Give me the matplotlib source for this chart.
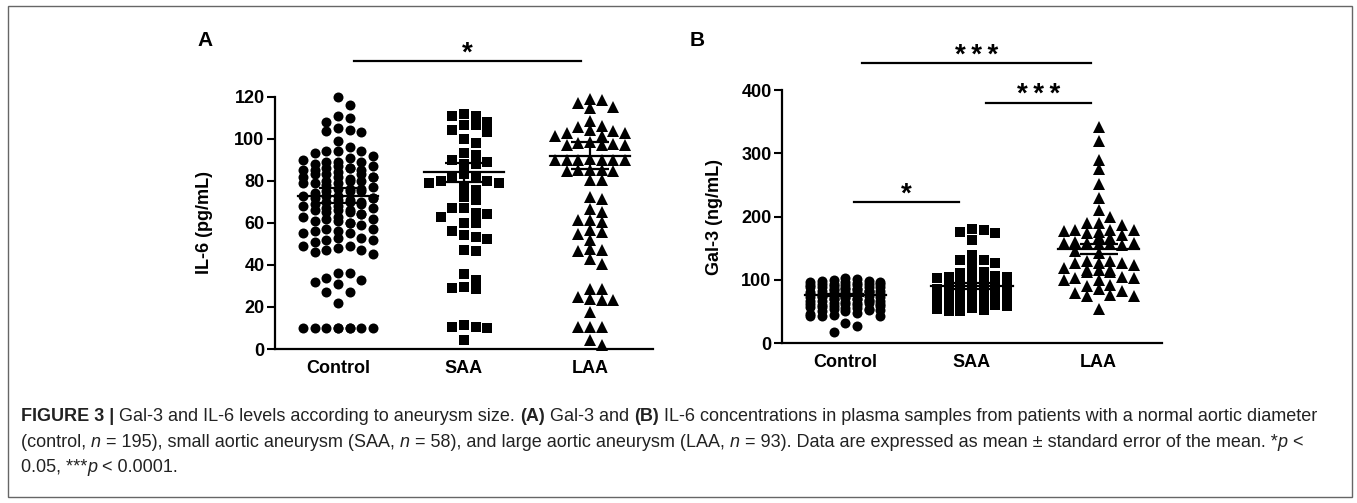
import matplotlib
matplotlib.use('Agg')
import matplotlib.pyplot as plt
from matplotlib.patches import Rectangle
import numpy as np

plt.rcParams['font.family'] = ['Liberation Sans', 'DejaVu Sans']

groups = ['Control', 'SAA', 'LAA']

# panel A: IL-6 (pg/mL)
il6_control = [120, 116, 111, 110, 108, 105, 104, 103.5, 103, 99, 96,
               94, 94, 93, 94, 92, 91,
               89, 89, 90, 89, 88,
               87, 86, 85, 86, 87, 85, 86, 85,
               83, 82, 83, 82, 83, 82, 82, 84, 81,
               80, 79, 80, 79, 80, 78, 79, 77,
               76, 75, 76, 75, 76, 74, 75,
               73, 72, 73, 71, 72, 73, 72, 71,
               70, 69, 70, 68, 69, 70, 68,
               67, 66, 65, 66, 67, 65, 66,
               64, 63, 62, 63, 64, 62,
               61, 60, 59, 60, 61,
               57, 56, 55, 56, 57, 55,
               53, 52, 51, 53, 52,
               49, 47, 46, 45, 48, 47, 49,
               36, 33, 31, 32, 34, 36,
               27, 27, 22,
               10, 10, 10, 10, 10, 10, 10, 10, 10]
il6_saa = [112, 111, 111, 108, 106.5, 106.5, 104, 103, 100, 98,
           93, 92.5, 90, 89, 88, 88,
           82, 80, 79, 79, 80, 83, 82,
           77, 75.5, 72.5, 71,
           67, 67, 64.5, 63, 64,
           60, 60, 56, 53.5, 52.5, 54,
           46.5, 47, 35.5, 33, 29.5, 28.5, 29,
           11.5, 10.5, 10, 10.5, 4.3]
il6_laa = [118.5, 115, 114.5, 117, 119,
           108.5, 106,
           104, 102.5, 101.5, 101.5, 102.5, 103.5, 105.5,
           98, 97, 97, 97.5, 97, 98.5,
           90.5, 90, 90, 90, 90, 90, 90,
           85, 84.5, 85, 85, 84.5,
           80.5, 80.5, 72.5, 71.5,
           66.5, 61.5, 60.5, 65, 61.5,
           56.5, 54.5, 55.5, 52,
           47, 46.5, 47.5, 40.5, 43,
           28.5, 28.5, 24.5, 23.5, 23.5, 24,
           17.5, 10.5, 10.5, 10.5, 4.3, 1.9]
il6_mean = [73, 84, 92]
il6_sem = [3.4, 4.5, 6.5]

# panel B: Gal-3 (ng/mL)
gal3_control = [102, 101, 99, 98, 98, 97, 96, 96, 95, 94, 94, 93, 93, 92,
                91, 91, 90, 89, 89, 88, 88, 87, 86, 86, 85, 85, 84, 83,
                83, 82, 82, 81, 80, 80, 79, 79, 78, 77, 77, 76, 76, 75,
                75, 74, 73, 73, 72, 72, 71, 70, 70, 69, 69, 68, 67, 67,
                66, 66, 65, 64, 64, 63, 62, 62, 61, 60, 60, 59, 58, 57,
                57, 56, 55, 54, 53, 52, 52, 51, 50, 48, 46, 44, 43, 42,
                42, 31.5, 27.5, 17]
gal3_saa = [179, 174, 163, 175, 180, 139.5, 126, 130.5, 130.5, 124,
            112, 110, 108, 106, 105, 104, 102, 101, 100, 98, 97, 96,
            95, 93, 92, 90, 89, 88, 86, 85, 84, 82, 80, 79, 78, 76,
            75, 74, 72, 71, 70, 68, 67, 66, 65, 63, 62, 61, 60, 59,
            58, 57, 56, 55, 54, 53, 52, 51, 50]
gal3_laa = [341, 320, 290, 275, 251, 229, 210, 200,
            189, 189, 186,
            176, 179, 179, 179, 177, 174,
            168, 166, 170,
            158, 157, 158, 160, 157, 155, 158,
            142, 145,
            126, 124, 126, 129, 126, 129,
            116, 116, 113, 118, 116, 113,
            105, 100, 103, 100, 103,
            92, 82, 79, 74, 75, 76, 90, 85,
            53]
gal3_mean = [76, 90, 148]
gal3_sem = [2, 5, 8]


def swarm_x(values, center, step, dy, maxk):
    # GraphPad-like column scatter: grid slots, nearest free slot to the centre
    values = np.asarray(values, float)
    slots = [0.0]
    k = 0.5
    while k <= maxk + 1e-9:
        slots += [k, -k]
        k += 0.5
    placed = []
    xs = np.empty(len(values))
    for i in np.argsort(-values, kind='stable'):
        y = values[i]
        def hits(s):
            return sum(1 for px, py in placed if abs(px - s) < 1 and abs(py - y) < dy)
        best = next((s for s in slots if hits(s) == 0), None)
        if best is None:
            best = min(slots, key=lambda s: (hits(s), abs(s)))
        placed.append((best, y))
        xs[i] = center + best * step
    return xs


def panel(ax, data, markers, sizes, means, sems, dy, maxk, ylim, yticks, ylabel):
    for i, (vals, m, ms) in enumerate(zip(data, markers, sizes)):
        xs = swarm_x(vals, i, 0.092, dy, maxk[i])
        ax.plot(xs, vals, linestyle='none', marker=m, markersize=ms,
                color='black', markeredgewidth=0, clip_on=False, zorder=3)
        ax.plot([i - 0.32, i + 0.32], [means[i]] * 2, color='black', lw=1.6, zorder=4)
        ax.errorbar(i, means[i], yerr=sems[i], color='black', lw=1.6,
                    capsize=14, capthick=1.6, zorder=4)
    ax.set_xlim(-0.5, 2.5)
    ax.set_ylim(*ylim)
    ax.set_yticks(yticks)
    ax.set_xticks(range(3))
    ax.set_xticklabels(groups, fontsize=13, fontweight='bold')
    ax.tick_params(axis='x', length=0, pad=8)
    ax.tick_params(axis='y', length=6, width=1.5, pad=1.5, labelsize=13)
    for lab in ax.get_yticklabels():
        lab.set_fontweight('bold')
    ax.spines['top'].set_visible(False)
    ax.spines['right'].set_visible(False)
    ax.spines['left'].set_linewidth(1.6)
    ax.spines['bottom'].set_linewidth(1.6)
    ax.set_ylabel(ylabel, fontsize=13, fontweight='bold')


def sig(ax, x0, x1, y, text):
    ax.plot([x0, x1], [y, y], color='black', lw=1.6, clip_on=False)
    ax.annotate(text, ((x0 + x1) / 2, y), xytext=(0, 0.5), textcoords='offset points',
                ha='center', va='baseline', fontsize=20, fontweight='bold',
                annotation_clip=False)


fig = plt.figure(figsize=(13.57, 5.03), dpi=100)
W, H = 1357, 503

axA = fig.add_axes([275 / W, 1 - 349 / H, 378 / W, 252.3 / H])
panel(axA, [il6_control, il6_saa, il6_laa], ['o', 's', '^'], [7.2, 7.2, 8.0],
      il6_mean, il6_sem, 4.4, [3.5, 3.5, 3.0], (0, 120), range(0, 121, 20), 'IL-6 (pg/mL)')
axA.yaxis.set_label_coords(-0.164, 0.5)
sig(axA, 0.13, 1.93, 137, '*')

axB = fig.add_axes([782 / W, 1 - 343 / H, 380 / W, 253 / H])
panel(axB, [gal3_control, gal3_saa, gal3_laa], ['o', 's', '^'], [7.2, 7.2, 8.0],
      gal3_mean, gal3_sem, 15, [3.5, 3.5, 3.0], (0, 400), range(0, 401, 100), 'Gal-3 (ng/mL)')
axB.yaxis.set_label_coords(-0.155, 0.5)
stars3 = '*\u2009*\u2009*'
sig(axB, 0.13, 1.94, 442, stars3)
sig(axB, 1.11, 1.94, 380, stars3)
sig(axB, 0.07, 0.90, 223, '*')

fig.text(205 / W, 1 - 40 / H, 'A', fontsize=15, fontweight='bold', ha='center', va='center')
fig.text(697 / W, 1 - 40 / H, 'B', fontsize=15, fontweight='bold', ha='center', va='center')

# frame round the whole figure
fig.patches.append(Rectangle((8 / W, 1 - 497 / H), 1344 / W, 491 / H, transform=fig.transFigure,
                             fill=False, edgecolor='#666666', lw=1))

# caption, built from runs of normal, bold and italic text
caption = [
    [('FIGURE 3 |', 'bold'), (' Gal-3 and IL-6 levels according to aneurysm size. ', 'normal'),
     ('(A)', 'bold'), (' Gal-3 and ', 'normal'), ('(B)', 'bold'),
     (' IL-6 concentrations in plasma samples from patients with a normal aortic diameter', 'normal')],
    [('(control, ', 'normal'), ('n', 'italic'), (' = 195), small aortic aneurysm (SAA, ', 'normal'),
     ('n', 'italic'), (' = 58), and large aortic aneurysm (LAA, ', 'normal'), ('n', 'italic'),
     (' = 93). Data are expressed as mean \u00b1 standard error of the mean. *', 'normal'),
     ('p', 'italic'), (' <', 'normal')],
    [('0.05, ***', 'normal'), ('p', 'italic'), (' < 0.0001.', 'normal')],
]
baselines = [421, 447, 472]
cap_size = 13.0
renderer = fig.canvas.get_renderer()


def run_width(s, style):
    kw = dict(fontsize=cap_size, fontweight='bold' if style == 'bold' else 'normal',
              fontstyle='italic' if style == 'italic' else 'normal')
    t1 = fig.text(0, 0, '|' + s + '|', **kw)
    t2 = fig.text(0, 0, '||', **kw)
    w = t1.get_window_extent(renderer).width - t2.get_window_extent(renderer).width
    t1.remove()
    t2.remove()
    return w


for line, base in zip(caption, baselines):
    x = 21
    for s, style in line:
        fig.text(x / W, 1 - base / H, s, fontsize=cap_size, color='#222222', va='baseline',
                 fontweight='bold' if style == 'bold' else 'normal',
                 fontstyle='italic' if style == 'italic' else 'normal')
        x += run_width(s, style)

fig.savefig('out.png', dpi=100)
